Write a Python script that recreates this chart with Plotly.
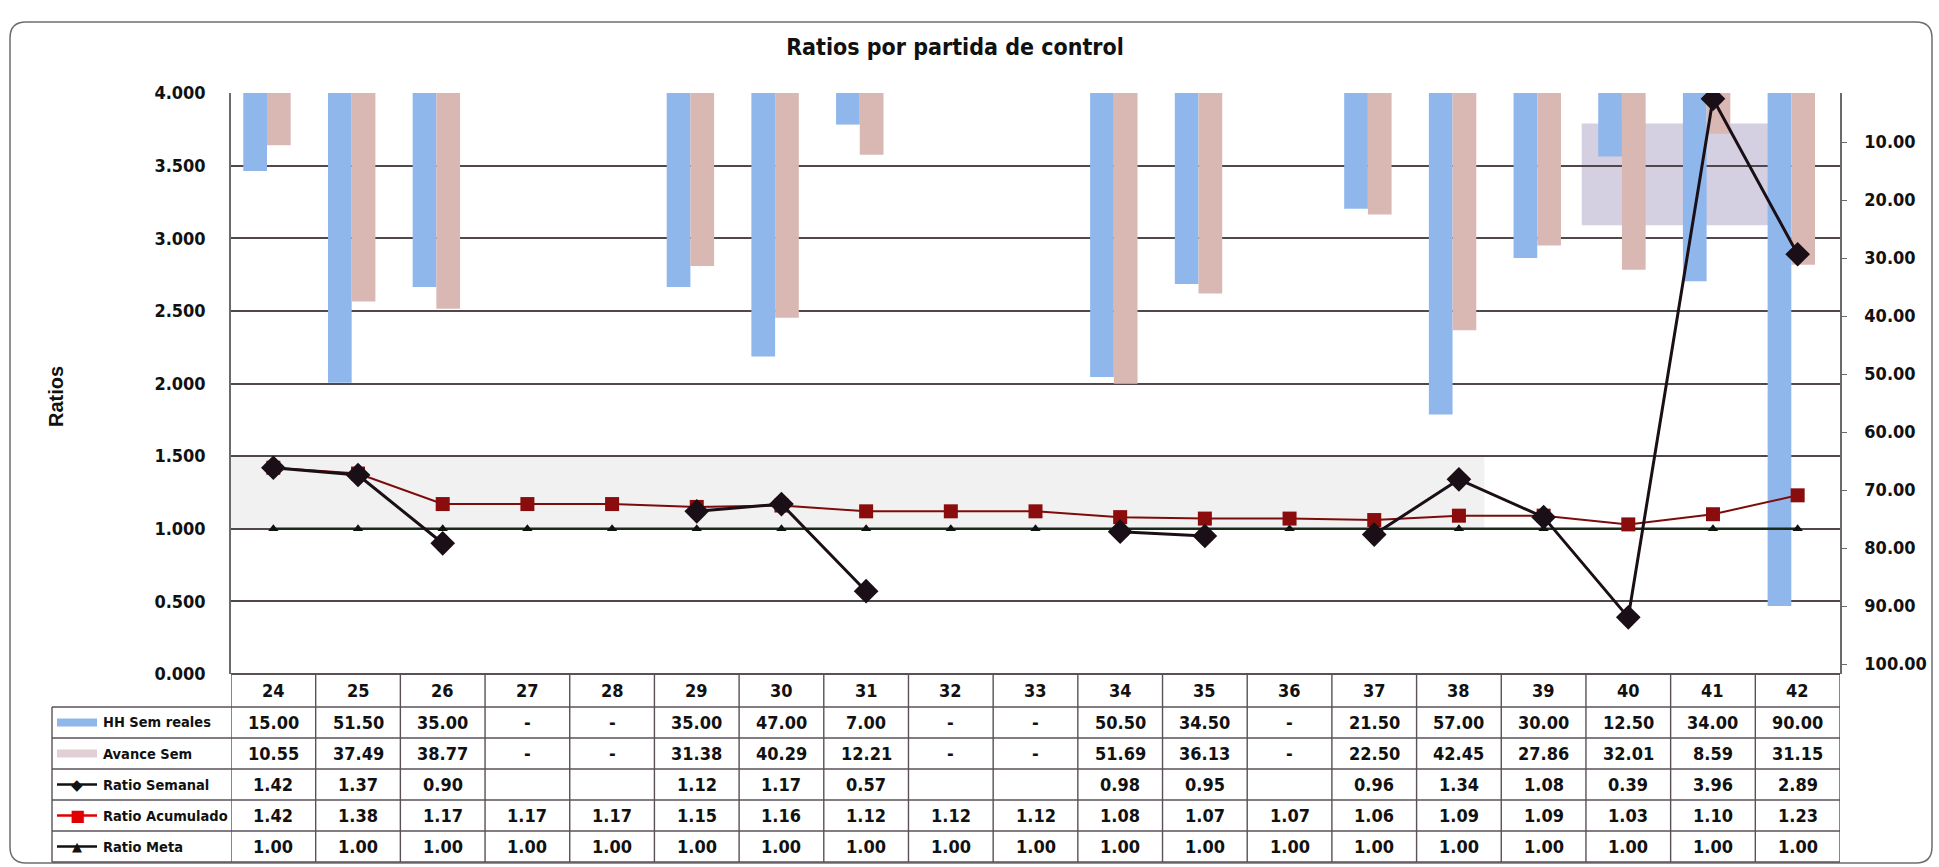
import plotly.graph_objects as go

# ---- data -------------------------------------------------------------
semanas = ["24", "25", "26", "27", "28", "29", "30", "31", "32", "33",
           "34", "35", "36", "37", "38", "39", "40", "41", "42"]
hh_sem_reales = [15.00, 51.50, 35.00, None, None, 35.00, 47.00, 7.00, None, None,
                 50.50, 34.50, None, 21.50, 57.00, 30.00, 12.50, 34.00, 90.00]
avance_sem = [10.55, 37.49, 38.77, None, None, 31.38, 40.29, 12.21, None, None,
              51.69, 36.13, None, 22.50, 42.45, 27.86, 32.01, 8.59, 31.15]
ratio_semanal = [1.42, 1.37, 0.90, None, None, 1.12, 1.17, 0.57, None, None,
                 0.98, 0.95, None, 0.96, 1.34, 1.08, 0.39, 3.96, 2.89]
ratio_acumulado = [1.42, 1.38, 1.17, 1.17, 1.17, 1.15, 1.16, 1.12, 1.12, 1.12,
                   1.08, 1.07, 1.07, 1.06, 1.09, 1.09, 1.03, 1.10, 1.23]
ratio_meta = [1.00] * 19

ratio_ticks = [0, 0.5, 1, 1.5, 2, 2.5, 3, 3.5, 4]
hh_ticks = [0, 10, 20, 30, 40, 50, 60, 70, 80, 90, 100]

# ---- geometry (pixels) ------------------------------------------------
W, H = 1939, 867
L, R, T, B = 231, 1840, 93, 674
FONT = "Liberation Sans Narrow, Arial Narrow, DejaVu Sans Condensed, Roboto, sans-serif"

BLUE = "#8fb7ec"
PINK = "#d9b8b3"
DARK = "#1a0f16"
MAROON = "#7d0b0b"
GRID = "#4f474c"


def px(x):
    return (x - L) / (R - L)


def py(y):
    return (B - y) / (B - T)


n = len(semanas)
xs = list(range(n))

fig = go.Figure()

# bars hang from the top on the reversed HH axis
fig.add_trace(go.Bar(x=xs, y=hh_sem_reales, name="HH Sem reales", marker_color=BLUE,
                     width=0.28, offset=-0.355, yaxis="y", marker_line_width=0))
fig.add_trace(go.Bar(x=xs, y=avance_sem, name="Avance Sem", marker_color=PINK,
                     width=0.28, offset=-0.075, yaxis="y", marker_line_width=0))

# ratio lines
fig.add_trace(go.Scatter(x=xs, y=ratio_meta, name="Ratio Meta", yaxis="y2", mode="lines+markers",
                         line=dict(color="#1b2a1b", width=2.5),
                         marker=dict(symbol="triangle-up", size=9, color="#111111")))
fig.add_trace(go.Scatter(x=xs, y=ratio_acumulado, name="Ratio Acumulado", yaxis="y2",
                         mode="lines+markers", line=dict(color=MAROON, width=2),
                         marker=dict(symbol="square", size=14, color="#8a0c0c")))
fig.add_trace(go.Scatter(x=xs, y=ratio_semanal, name="Ratio Semanal", yaxis="y2",
                         mode="lines+markers", connectgaps=False,
                         line=dict(color=DARK, width=3),
                         marker=dict(symbol="diamond", size=19, color=DARK)))

shapes = []
annotations = []

# light band and block in the upper right of the plot
shapes.append(dict(type="rect", xref="x", yref="y2", x0=-0.5, x1=14.3, y0=1.0, y1=1.5,
                   fillcolor="rgba(225,225,225,0.45)", line_width=0, layer="below"))
shapes.append(dict(type="rect", xref="x", yref="y2", x0=15.45, x1=17.69, y0=3.09, y1=3.79,
                   fillcolor="rgba(205,200,220,0.85)", line_width=0, layer="below"))

# outer rounded frame
fx0, fx1, fy0, fy1, rr = 10, 1932, 22, 863, 16


def P(x, y):
    return f"{px(x):.5f},{py(y):.5f}"


frame = (f"M {P(fx0 + rr, fy0)} L {P(fx1 - rr, fy0)} Q {P(fx1, fy0)} {P(fx1, fy0 + rr)} "
         f"L {P(fx1, fy1 - rr)} Q {P(fx1, fy1)} {P(fx1 - rr, fy1)} "
         f"L {P(fx0 + rr, fy1)} Q {P(fx0, fy1)} {P(fx0, fy1 - rr)} "
         f"L {P(fx0, fy0 + rr)} Q {P(fx0, fy0)} {P(fx0 + rr, fy0)} Z")
shapes.append(dict(type="path", xref="paper", yref="paper", path=frame,
                   line=dict(color="#6e6e6e", width=1.5)))

# ---- data table under the plot --------------------------------------
TBL = "#5a5058"
row_edges = [707, 738, 769, 800, 831, 862]
LEG_X = 52

shapes.append(dict(type="line", xref="paper", yref="paper", x0=0, x1=1,
                   y0=py(B), y1=py(B), line=dict(color=TBL, width=2)))
for ye in row_edges:
    shapes.append(dict(type="line", xref="paper", yref="paper", x0=px(LEG_X), x1=1,
                       y0=py(ye), y1=py(ye), line=dict(color=TBL, width=1.6)))
for i in range(n + 1):
    shapes.append(dict(type="line", xref="x", yref="paper", x0=i - 0.5, x1=i - 0.5,
                       y0=py(B), y1=py(row_edges[-1]), line=dict(color=TBL, width=1.4)))
shapes.append(dict(type="line", xref="paper", yref="paper", x0=px(LEG_X), x1=px(LEG_X),
                   y0=py(row_edges[0]), y1=py(row_edges[-1]), line=dict(color=TBL, width=1.4)))

cell_font = dict(family=FONT, size=18, color="#111111", weight="bold")
for i, s in enumerate(semanas):
    annotations.append(dict(x=i, y=py((B + row_edges[0]) / 2), xref="x", yref="paper",
                            text=s, showarrow=False, font=cell_font,
                            xanchor="center", yanchor="middle"))


def fmt(v, dash):
    if v is None:
        return "-" if dash else ""
    return f"{v:.2f}"


rows = [
    ("HH Sem reales", hh_sem_reales, True),
    ("Avance Sem", avance_sem, True),
    ("Ratio Semanal", ratio_semanal, False),
    ("Ratio Acumulado", ratio_acumulado, False),
    ("Ratio Meta", ratio_meta, False),
]
for r, (label, vals, dash) in enumerate(rows):
    yc = (row_edges[r] + row_edges[r + 1]) / 2
    for i, v in enumerate(vals):
        annotations.append(dict(x=i, y=py(yc), xref="x", yref="paper", text=fmt(v, dash),
                                showarrow=False, font=cell_font,
                                xanchor="center", yanchor="middle"))
    annotations.append(dict(x=px(101), y=py(yc), xref="paper", yref="paper", text=label,
                            showarrow=False, xanchor="left", yanchor="middle",
                            font=dict(family=FONT, size=14.5, color="#111111", weight="bold")))

# legend keys inside the table
key_x0, key_x1, key_xc = 57, 97, 77
yc0 = (row_edges[0] + row_edges[1]) / 2
yc1 = (row_edges[1] + row_edges[2]) / 2
shapes.append(dict(type="rect", xref="paper", yref="paper", x0=px(key_x0), x1=px(key_x1),
                   y0=py(yc0 + 4), y1=py(yc0 - 4), fillcolor=BLUE, line_width=0))
shapes.append(dict(type="rect", xref="paper", yref="paper", x0=px(key_x0), x1=px(key_x1),
                   y0=py(yc1 + 4), y1=py(yc1 - 4), fillcolor="#e2cfd3", line_width=0))
key_specs = [(2, "#111111", "◆", 15), (3, "#e00000", "■", 16), (4, "#111111", "▲", 13)]
for r, col, glyph, sz in key_specs:
    yc = (row_edges[r] + row_edges[r + 1]) / 2
    shapes.append(dict(type="line", xref="paper", yref="paper", x0=px(key_x0), x1=px(key_x1),
                       y0=py(yc), y1=py(yc), line=dict(color=col, width=2.5)))
    annotations.append(dict(x=px(key_xc), y=py(yc), xref="paper", yref="paper", text=glyph,
                            showarrow=False, xanchor="center", yanchor="middle",
                            font=dict(family="DejaVu Sans", size=sz, color=col)))

# axis title
annotations.append(dict(x=px(56), y=py(397), xref="paper", yref="paper", text="<b>Ratios</b>",
                        showarrow=False, textangle=-90, xanchor="center", yanchor="middle",
                        font=dict(family="Liberation Sans, Arial, sans-serif", size=20,
                                  color="#111111")))

# HH axis range: 0 sits slightly above the plot top, 100 slightly above its bottom
hh_top, hh_bottom = 84, 664
scale = (hh_bottom - hh_top) / 100.0
hh_range = [(B - hh_top) / scale, (T - hh_top) / scale]

tick_font = dict(family=FONT, size=18, color="#111111", weight="bold")

fig.update_layout(
    width=W, height=H,
    margin=dict(l=L, r=W - R, t=T, b=H - B, pad=0),
    paper_bgcolor="white", plot_bgcolor="white",
    showlegend=False,
    title=dict(text="<b>Ratios por partida de control</b>", x=955 / W, xanchor="center",
               y=1 - 47 / H, yanchor="middle",
               font=dict(family=FONT, size=23, color="#111111")),
    xaxis=dict(range=[-0.5, n - 0.5], showticklabels=False, showgrid=False, zeroline=False,
               showline=False, ticks=""),
    yaxis=dict(range=hh_range, side="right", tickvals=hh_ticks,
               ticktext=["-"] + [f"{v:.2f}" for v in hh_ticks[1:]],
               showgrid=False, zeroline=False, showline=True, linecolor="#6a6a6a",
               linewidth=1.5, ticks="outside", ticklen=5, tickcolor="#6a6a6a",
               ticklabelstandoff=14, tickfont=tick_font),
    yaxis2=dict(range=[0, 4], overlaying="y", side="left", tickvals=ratio_ticks,
                tickformat=".3f", showgrid=True, gridcolor=GRID, gridwidth=1.6,
                zeroline=False, showline=True, linecolor="#6a6a6a", linewidth=1.5,
                ticks="", ticklabelstandoff=20, tickfont=tick_font),
    shapes=shapes,
    annotations=annotations,
)

fig.write_html("out.html")
